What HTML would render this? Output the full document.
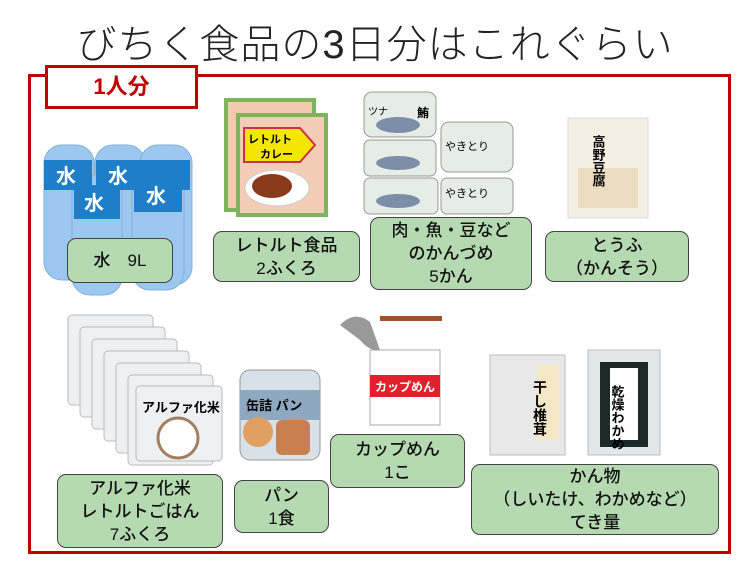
<!DOCTYPE html>
<html><head><meta charset="utf-8"><style>
body{margin:0;width:750px;height:563px;background:#fff;position:relative;overflow:hidden;font-family:"Liberation Sans","Noto Sans CJK JP",sans-serif}
.t{position:absolute;left:0;width:750px;top:12px;text-align:center;font-size:40px;font-weight:300;color:#222;letter-spacing:1px}
.frame{position:absolute;left:28px;top:74px;width:697px;height:474px;border:3px solid #c00000}
.tab{position:absolute;left:45px;top:65px;width:147px;height:38px;border:3px solid #c00000;background:#fff;color:#c00000;font-size:22px;font-weight:bold;text-align:center;line-height:38px}
.l{position:absolute;background:#b5d9b0;border:1.5px solid #444;border-radius:9px;box-sizing:border-box;display:flex;align-items:center;justify-content:center;text-align:center;font-size:17px;line-height:23px;color:#111;font-weight:500}
.s{position:absolute}
</style></head><body>
<div class="t">びちく食品の3日分はこれぐらい</div>
<div class="frame"></div>
<div class="tab">1人分</div>

<svg class="s" style="left:0;top:0" width="750" height="563">
<!-- bottles -->
<g fill="#9cc8ef" stroke="#7fb0de">
<rect x="44" y="145" width="50" height="135" rx="18"/><rect x="95" y="145" width="50" height="135" rx="18"/><rect x="140" y="145" width="52" height="140" rx="18"/>
<rect x="72" y="175" width="50" height="120" rx="18"/><rect x="132" y="170" width="52" height="120" rx="18"/>
</g>
<g fill="#1e7ec8"><rect x="44" y="160" width="48" height="30"/><rect x="96" y="160" width="48" height="30"/><rect x="142" y="160" width="48" height="30"/><rect x="74" y="185" width="46" height="34"/><rect x="134" y="178" width="48" height="34"/></g>
<g fill="#fff" font-size="20" font-weight="bold" font-family="Noto Sans CJK JP"><text x="56" y="183">水</text><text x="108" y="183">水</text><text x="84" y="210">水</text><text x="146" y="203">水</text></g>
<!-- curry -->
<rect x="226" y="100" width="88" height="110" fill="#f3c9b0" stroke="#7cb55c" stroke-width="4"/>
<rect x="238" y="115" width="88" height="100" fill="#f4cdb6" stroke="#7cb55c" stroke-width="4"/>
<polygon points="244,128 300,128 315,145 300,162 244,162" fill="#f5e600" stroke="#d0304a" stroke-width="2"/>
<text x="248" y="143" font-size="11" font-weight="bold">レトルト</text><text x="260" y="158" font-size="11" font-weight="bold">カレー</text>
<ellipse cx="277" cy="188" rx="32" ry="18" fill="#fff" stroke="#ccc"/><ellipse cx="272" cy="186" rx="20" ry="12" fill="#8a3a1a"/>
<!-- cans -->
<g fill="#e6ece8" stroke="#999"><rect x="364" y="92" width="72" height="45" rx="8"/><rect x="364" y="140" width="72" height="36" rx="6"/><rect x="364" y="178" width="74" height="36" rx="6"/><rect x="441" y="122" width="72" height="50" rx="8"/><rect x="441" y="178" width="72" height="36" rx="6"/></g>
<g fill="#7d8fa8"><ellipse cx="398" cy="125" rx="22" ry="8"/><ellipse cx="398" cy="163" rx="22" ry="7"/><ellipse cx="398" cy="201" rx="22" ry="7"/></g>
<text x="368" y="115" font-size="10">ツナ</text><text x="417" y="117" font-size="12" font-weight="bold">鮪</text>
<text x="445" y="150" font-size="11">やきとり</text><text x="445" y="197" font-size="11">やきとり</text>
<!-- tofu -->
<rect x="568" y="118" width="80" height="100" fill="#f5eee2" stroke="#ddd"/><rect x="578" y="168" width="60" height="40" fill="#ecdcc0"/>
<text x="598" y="135" font-size="13" font-weight="bold" writing-mode="tb">高野豆腐</text>
<!-- rice pouches -->
<g fill="#eef0f2" stroke="#bbb"><rect x="68" y="315" width="85" height="90" rx="4"/><rect x="80" y="327" width="85" height="90" rx="4"/><rect x="92" y="339" width="85" height="90" rx="4"/><rect x="104" y="351" width="85" height="90" rx="4"/><rect x="116" y="363" width="85" height="90" rx="4"/><rect x="128" y="375" width="85" height="90" rx="4"/><rect x="136" y="386" width="86" height="75" rx="4"/></g>
<text x="142" y="412" font-size="13" font-weight="bold">アルファ化米</text>
<circle cx="178" cy="438" r="20" fill="#fff" stroke="#a08060" stroke-width="3"/>
<!-- bread can -->
<rect x="240" y="370" width="80" height="90" rx="10" fill="#d8e0e8" stroke="#999"/><rect x="240" y="390" width="80" height="30" fill="#8ea8c2"/>
<text x="246" y="410" font-size="13" font-weight="bold">缶詰 パン</text>
<circle cx="258" cy="432" r="15" fill="#e0a060"/><rect x="276" y="420" width="34" height="35" rx="6" fill="#c98050"/>
<!-- cup noodle -->
<rect x="370" y="350" width="70" height="75" fill="#fff" stroke="#aaa"/><rect x="370" y="375" width="70" height="22" fill="#e0202a"/>
<text x="375" y="391" font-size="12" font-weight="bold" fill="#fff">カップめん</text>
<path d="M340,325 Q355,310 370,322 L380,350 Q370,352 360,340 Z" fill="#999"/>
<rect x="380" y="316" width="62" height="5" fill="#a0522d"/>
<!-- dried -->
<rect x="490" y="355" width="75" height="100" fill="#e8e8e8" stroke="#bbb"/><rect x="537" y="365" width="22" height="75" fill="#f3e7c6"/>
<text x="540" y="380" font-size="14" font-weight="bold" writing-mode="tb">干し椎茸</text>
<rect x="588" y="350" width="72" height="105" fill="#e4e6e8" stroke="#bbb"/><rect x="600" y="362" width="48" height="85" fill="#1c2a2a"/><rect x="610" y="368" width="28" height="72" fill="#fff"/>
<text x="617" y="385" font-size="13" font-weight="bold" writing-mode="tb">乾燥わかめ</text>
</svg>

<div class="l" style="left:67px;top:238px;width:106px;height:45px">水　9L</div>
<div class="l" style="left:213px;top:231px;width:147px;height:51px">レトルト食品<br>2ふくろ</div>
<div class="l" style="left:370px;top:217px;width:162px;height:73px">肉・魚・豆など<br>のかんづめ<br>5かん</div>
<div class="l" style="left:545px;top:231px;width:144px;height:51px">とうふ<br>（かんそう）</div>
<div class="l" style="left:57px;top:474px;width:166px;height:74px">アルファ化米<br>レトルトごはん<br>7ふくろ</div>
<div class="l" style="left:234px;top:480px;width:95px;height:53px">パン<br>1食</div>
<div class="l" style="left:330px;top:434px;width:135px;height:54px">カップめん<br>1こ</div>
<div class="l" style="left:471px;top:464px;width:248px;height:71px">かん物<br>（しいたけ、わかめなど）<br>てき量</div>
</body></html>
